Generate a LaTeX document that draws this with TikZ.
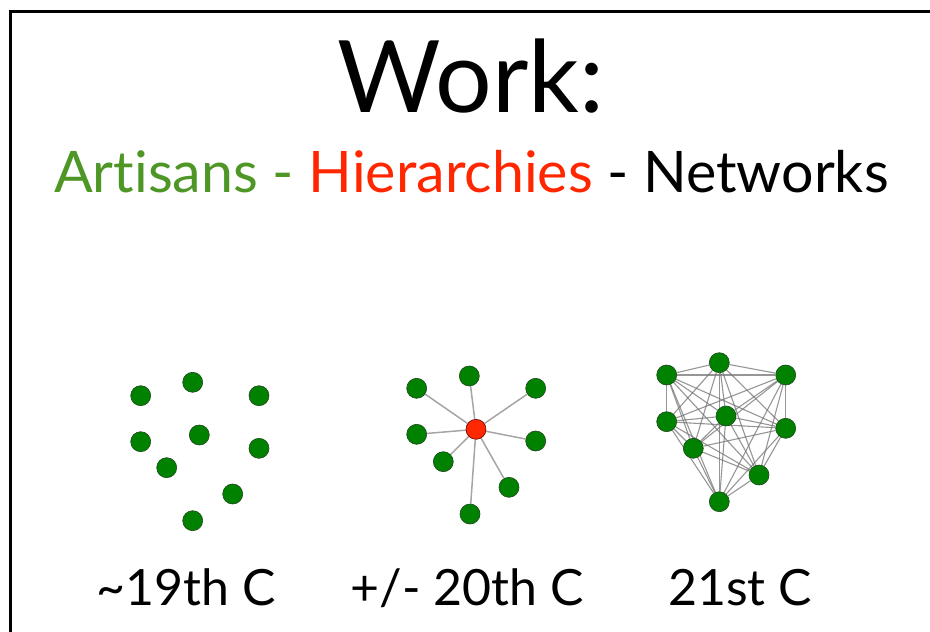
\documentclass[tikz,border=0pt]{standalone}
\usepackage{fontspec}
\setmainfont[Ligatures=NoCommon]{Lato}
\usetikzlibrary{backgrounds}
\definecolor{artgreen}{RGB}{78,150,38}
\definecolor{hierred}{RGB}{255,38,0}
\definecolor{dotgreen}{RGB}{0,130,0}
\definecolor{dotred}{RGB}{255,40,0}
\definecolor{dotedge}{RGB}{30,70,30}
\definecolor{edgegray}{RGB}{165,165,165}
\begin{document}
\begin{tikzpicture}[x=1pt,y=-1pt,
  dot/.style={circle,fill=dotgreen,draw=dotedge,line width=0.6pt,inner sep=0pt,minimum size=20pt},
  hub/.style={dot,fill=dotred,draw=black!60!red},
  link/.style={draw=edgegray,line width=1.5pt},
  mesh/.style={draw=black!55,line width=1.1pt,opacity=0.75},
  lbl/.style={anchor=base,inner sep=0pt,font=\fontsize{50}{60}\selectfont}]
\useasboundingbox (0,0) rectangle (930,632);
\draw[line width=3pt] (10,11) rectangle (950,660);
% titles
\node[anchor=base,inner sep=0pt,font=\fontsize{100}{120}\selectfont] (title) at (471,112) {Work:};
\node[anchor=base,inner sep=0pt,font=\fontsize{57.3}{70}\selectfont] (sub) at (471.5,192)
  {\textcolor{artgreen}{Artisans -} \textcolor{hierred}{Hierarchies} - Networks};
% graph 1
\node[dot] (a1) at (140.7,395.7) {};
\node[dot] (a2) at (192.7,382.3) {};
\node[dot] (a3) at (259,395.7) {};
\node[dot] (a4) at (140.7,441.7) {};
\node[dot] (a5) at (199.3,435) {};
\node[dot] (a6) at (259,448.3) {};
\node[dot] (a7) at (166.7,467.7) {};
\node[dot] (a8) at (232.7,494) {};
\node[dot] (a9) at (192.7,520.7) {};
% graph 2
\node[hub] (b0) at (476,429.3) {};
\node[dot] (b1) at (469.3,376) {};
\node[dot] (b2) at (416.7,388.3) {};
\node[dot] (b3) at (535.7,388.3) {};
\node[dot] (b4) at (416.7,434.3) {};
\node[dot] (b5) at (535.7,441) {};
\node[dot] (b6) at (443.3,461.7) {};
\node[dot] (b7) at (509,487.3) {};
\node[dot] (b8) at (470,514) {};
\begin{pgfonlayer}{background}
\foreach \k in {1,...,8} \draw[link] (b0) -- (b\k);
\end{pgfonlayer}
% graph 3
\node[dot] (c1) at (719.3,362.7) {};
\node[dot] (c2) at (666.7,375) {};
\node[dot] (c3) at (785.7,375) {};
\node[dot] (c4) at (666.7,421.7) {};
\node[dot] (c5) at (726,416) {};
\node[dot] (c6) at (785.7,428.3) {};
\node[dot] (c7) at (693.3,448.3) {};
\node[dot] (c8) at (759,475) {};
\node[dot] (c9) at (719.3,501.7) {};
\begin{pgfonlayer}{background}
\foreach \i in {1,...,8} {
  \pgfmathtruncatemacro\nxt{\i+1}
  \foreach \j in {\nxt,...,9} \draw[mesh] (c\i) -- (c\j);
}
\end{pgfonlayer}
% labels
\node[lbl] (l1) at (186.5,605) {\char`\~19th C};
\node[lbl] (l2) at (467,605) {+/- 20th C};
\node[lbl] (l3) at (740,605) {21st C};
\end{tikzpicture}
\end{document}
